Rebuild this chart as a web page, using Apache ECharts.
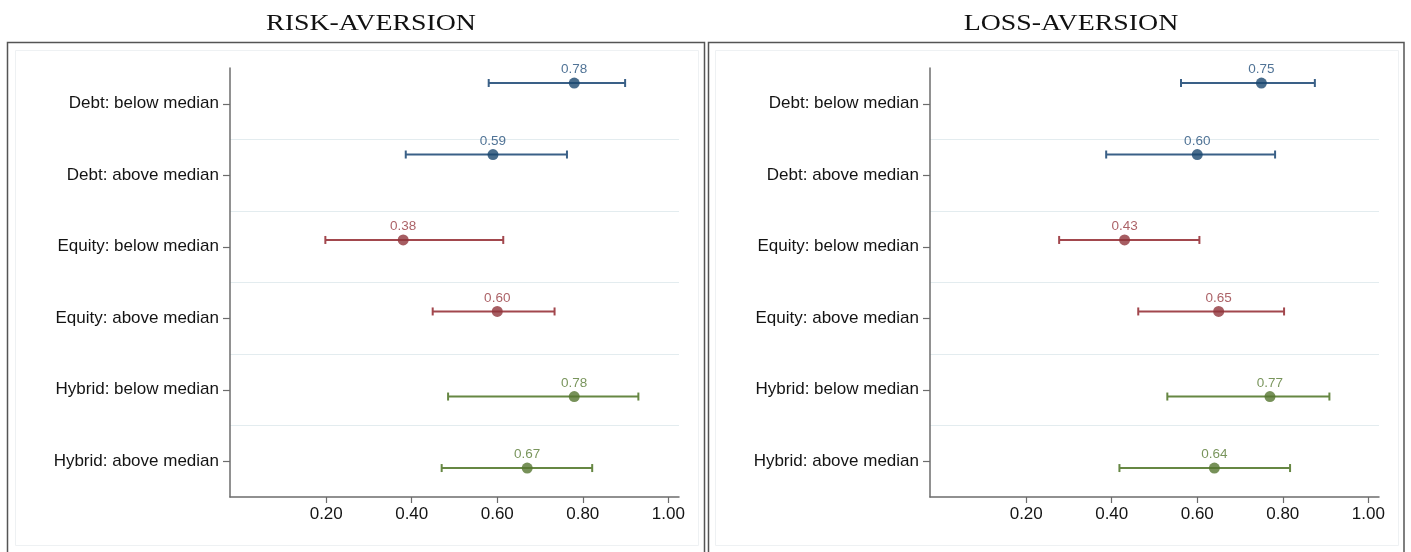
<!DOCTYPE html>
<html>
<head>
<meta charset="utf-8">
<script src="https://cdn.jsdelivr.net/npm/echarts@6/dist/echarts.min.js"></script>
<style>
  html, body { margin: 0; padding: 0; background: #ffffff; }
  #chart { width: 1411px; height: 552px; }
</style>
</head>
<body>
<div id="chart"></div>
<script>
// Fund groups (rows, top to bottom)
const categories = [
  'Debt: below median',
  'Debt: above median',
  'Equity: below median',
  'Equity: above median',
  'Hybrid: below median',
  'Hybrid: above median'
];

const panelTitles = ['RISK-AVERSION', 'LOSS-AVERSION'];
const xTickValues = [0.2, 0.4, 0.6, 0.8, 1.0];

// Risk-aversion: point estimate and confidence interval bounds
const riskEstimate = [0.78, 0.59, 0.38, 0.60, 0.78, 0.67];
const riskLower    = [0.58, 0.386, 0.198, 0.449, 0.485, 0.47];
const riskUpper    = [0.899, 0.763, 0.614, 0.734, 0.93, 0.822];

// Loss-aversion: point estimate and confidence interval bounds
const lossEstimate = [0.75, 0.60, 0.43, 0.65, 0.77, 0.64];
const lossLower    = [0.562, 0.387, 0.277, 0.462, 0.530, 0.418];
const lossUpper    = [0.875, 0.782, 0.605, 0.803, 0.909, 0.817];

// ---- styling ----
const dotColor   = { Debt: '#1a476f', Equity: '#90353b', Hybrid: '#55752f' };
const lineColor  = { Debt: '#3a6087', Equity: '#a2474d', Hybrid: '#668743' };
const labelColor = { Debt: '#24507c', Equity: '#963a40', Hybrid: '#587a33' };
// vertical nudge of each fund type inside its row band
const rowShift = { Debt: -0.29, Equity: -0.095, Hybrid: 0.095 };
const axisGrey = '#6c6c6c';
const textColor = '#141414';
const sansFont = '"Liberation Sans", Arial, Helvetica, sans-serif';

const groupOf = categories.map(c => c.split(':')[0]);
const rowY = categories.map((c, i) => i + 0.5 + rowShift[groupOf[i]]);

const panels = [
  { est: riskEstimate, lo: riskLower, hi: riskUpper },
  { est: lossEstimate, lo: lossLower, hi: lossUpper }
];
const panelShift = 700;

const grids = [], xAxes = [], yAxes = [], series = [], graphics = [];

panels.forEach((p, k) => {
  const dx = k * panelShift;

  grids.push({ left: 230 + dx, top: 68, width: 449, height: 429, containLabel: false });

  xAxes.push({
    gridIndex: k, type: 'value', min: -0.025, max: 1.025,
    axisLine: { show: true, onZero: false, lineStyle: { color: axisGrey, width: 1.5 } },
    axisTick: { show: true, length: 6, customValues: xTickValues, lineStyle: { color: axisGrey, width: 1.2 } },
    axisLabel: {
      customValues: xTickValues, formatter: v => v.toFixed(2),
      fontSize: 17, fontFamily: sansFont, color: textColor, margin: 9
    },
    splitLine: { show: false }
  });

  // value axis carrying the marks and the light separators between rows
  yAxes.push({
    gridIndex: k, type: 'value', min: 0, max: 6, interval: 1, inverse: true,
    axisLine: { show: false }, axisTick: { show: false }, axisLabel: { show: false },
    splitLine: { show: true, showMinLine: false, showMaxLine: false, lineStyle: { color: '#e3ecef', width: 1 } }
  });
  // category axis carrying the row names
  yAxes.push({
    gridIndex: k, type: 'category', data: categories, inverse: true, boundaryGap: true,
    position: 'left',
    axisLine: { show: true, onZero: false, lineStyle: { color: axisGrey, width: 1.5 } },
    axisTick: { show: true, alignWithLabel: true, length: 7, lineStyle: { color: axisGrey, width: 1.2 } },
    axisLabel: { fontSize: 17, fontFamily: sansFont, color: textColor, margin: 11 },
    splitLine: { show: false }
  });

  // confidence intervals with end caps
  series.push({
    type: 'custom', xAxisIndex: k, yAxisIndex: 2 * k, z: 2,
    data: categories.map((c, i) => [p.lo[i], p.hi[i], rowY[i]]),
    encode: { x: [0, 1], y: 2 },
    renderItem: (params, api) => {
      const a = api.coord([api.value(0), api.value(2)]);
      const b = api.coord([api.value(1), api.value(2)]);
      const col = lineColor[groupOf[params.dataIndex]];
      const st = { stroke: col, lineWidth: 2 };
      const h = 4;
      return {
        type: 'group',
        children: [
          { type: 'line', shape: { x1: a[0], y1: a[1], x2: b[0], y2: b[1] }, style: st },
          { type: 'line', shape: { x1: a[0], y1: a[1] - h, x2: a[0], y2: a[1] + h }, style: st },
          { type: 'line', shape: { x1: b[0], y1: b[1] - h, x2: b[0], y2: b[1] + h }, style: st }
        ]
      };
    }
  });

  // point estimates with value labels
  series.push({
    type: 'scatter', xAxisIndex: k, yAxisIndex: 2 * k, z: 3,
    symbol: 'circle', symbolSize: 11,
    data: categories.map((c, i) => ({
      value: [p.est[i], rowY[i]],
      itemStyle: { color: dotColor[groupOf[i]] },
      label: { color: labelColor[groupOf[i]] }
    })),
    label: {
      show: true, position: 'top', distance: 1,
      fontSize: 13.5, fontFamily: sansFont,
      formatter: d => d.value[0].toFixed(2)
    },
    emphasis: { disabled: true }
  });

  // panel frame, inner faint region and title
  graphics.push({
    type: 'rect', silent: true, z: 0,
    shape: { x: 7.5 + dx + (k ? 1 : 0), y: 42.5, width: 697 - (k ? 1.5 : 0), height: 540 },
    style: { fill: 'none', stroke: '#555555', lineWidth: 1.5 }
  });
  graphics.push({
    type: 'rect', silent: true, z: 0,
    shape: { x: 15.5 + dx, y: 50.5, width: 683, height: 495 },
    style: { fill: 'none', stroke: '#eef1f3', lineWidth: 1 }
  });
  graphics.push({
    type: 'text', silent: true, x: 371 + dx, y: 24, scaleX: 1.16,
    style: {
      text: panelTitles[k], x: 0, y: 0, align: 'center', verticalAlign: 'middle',
      font: '24px "Liberation Serif", "Times New Roman", serif', fill: '#111111'
    }
  });
});

const chart = echarts.init(document.getElementById('chart'), null, { renderer: 'canvas' });
chart.setOption({
  animation: false,
  backgroundColor: '#ffffff',
  grid: grids,
  xAxis: xAxes,
  yAxis: yAxes,
  series: series,
  graphic: { elements: graphics }
});
</script>
</body>
</html>
